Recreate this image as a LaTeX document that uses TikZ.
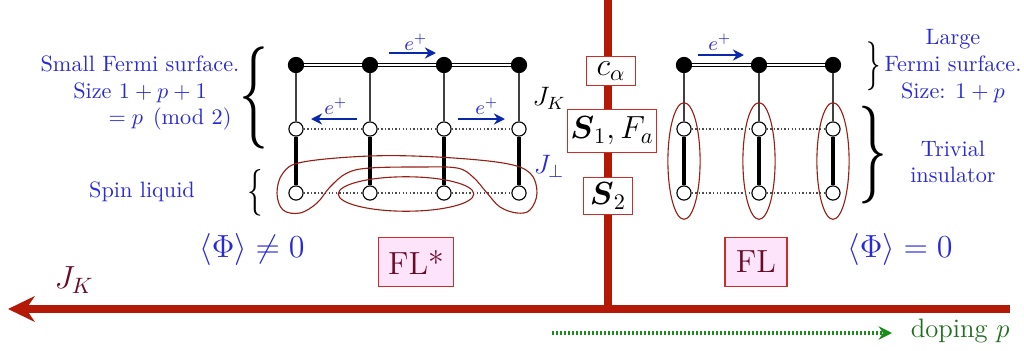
\documentclass[tikz,border=0pt]{standalone}
\usepackage{amsmath}
\usepackage{graphicx}
\usetikzlibrary{arrows.meta,shapes.geometric}
\definecolor{mainred}{RGB}{180,24,6}
\definecolor{boxred}{RGB}{205,45,40}
\definecolor{maroon}{RGB}{105,10,40}
\definecolor{pinkfill}{RGB}{253,228,250}
\definecolor{txtblue}{RGB}{40,40,220}
\definecolor{arrblue}{RGB}{10,40,170}
\definecolor{loopred}{RGB}{150,30,20}
\definecolor{dgreen}{RGB}{25,140,25}
\definecolor{tgreen}{RGB}{30,110,30}
\tikzset{
  fdot/.style={circle,fill=black,draw=black,inner sep=0pt,minimum size=6.9pt},
  odot/.style={circle,fill=white,draw=black,line width=0.5pt,inner sep=0pt,minimum size=6.4pt},
  dbl/.style={draw=black,line width=0.45pt,double=white,double distance=0.75pt},
  kond/.style={draw=black!75,line width=0.5pt},
  perp/.style={draw=black,line width=1.4pt},
  dots/.style={draw=black!70,line width=0.5pt,dash pattern=on 0.6pt off 1pt},
  hop/.style={draw=arrblue,line width=1.3pt,-{Stealth[length=5pt,width=5pt]}},
  eplus/.style={text=txtblue,font=\small},
  ringline/.style={draw=loopred,line width=0.5pt},
  fieldbox/.style={draw=boxred,fill=white,line width=0.6pt,inner sep=1pt,font=\Large},
  phasebox/.style={draw=boxred,fill=pinkfill,line width=0.6pt,text=maroon,font=\Large,minimum height=22pt,inner sep=2pt},
  bluetxt/.style={text=txtblue,align=center},
  mainline/.style={draw=mainred,line width=3.2pt}
}
\begin{document}
\begin{tikzpicture}[x=0.45pt,y=-0.45pt]
\useasboundingbox (0,0) rectangle (1024,351);
% main axes
\coordinate (vtop) at (608,0);
\coordinate (vbot) at (608,309);
\coordinate (hR) at (1010,309);
\coordinate (hL) at (8,309);
\draw[mainline] (vtop) -- (vbot);
\draw[mainline,-{Stealth[length=12pt,width=11.5pt]}] (hR) -- (hL);
% fields boxes
\node[fieldbox,minimum width=22pt,minimum height=13pt] (ca) at (611,71) {$c_\alpha$};
\node[fieldbox,minimum width=40pt,minimum height=19.4pt] (SF) at (612,131) {$\boldsymbol{S}_1, F_a$};
\node[fieldbox,minimum width=22pt,minimum height=16.7pt] (S2) at (608,196) {$\boldsymbol{S}_2$};
% left lattice
\foreach \i/\x in {1/296,2/370,3/444,4/519}{
  \node[fdot] (a\i) at (\x,65) {};
  \node[odot] (b\i) at (\x,129) {};
  \node[odot] (c\i) at (\x,193) {};
  \draw[kond] (a\i) -- (b\i);
  \draw[perp] (b\i) -- (c\i);
}
\draw[dbl] (a1) -- (a2);
\draw[dbl] (a2) -- (a3);
\draw[dbl] (a3) -- (a4);
\draw[dots] (b1) -- (b2); \draw[dots] (b2) -- (b3); \draw[dots] (b3) -- (b4);
\draw[dots] (c1) -- (c2); \draw[dots] (c2) -- (c3); \draw[dots] (c3) -- (c4);
% hops left
\coordinate (h1s) at (389,53); \coordinate (h1e) at (436,53);
\coordinate (h2s) at (357,119); \coordinate (h2e) at (311,119);
\coordinate (h3s) at (458,119); \coordinate (h3e) at (505,119);
\draw[hop] (h1s) -- (h1e);
\draw[hop] (h2s) -- (h2e);
\draw[hop] (h3s) -- (h3e);
\node[eplus] (e1) at (416,42) {$e^+$};
\node[eplus] (e2) at (336,106) {$e^+$};
\node[eplus] (e3) at (487,106) {$e^+$};
\node[font=\large] (JK) at (549,98) {$J_K$};
\node[font=\large,text=txtblue] (Jp) at (549,166) {$J_\perp$};
% loops
\draw[ringline] plot[smooth cycle,tension=0.6] coordinates {
 (277,193) (283,173) (303,162) (370,156) (437,157) (503,163) (530,173) (537,193)
 (530,210) (517,213) (500,207) (487,193) (473,177) (457,168) (420,167) (370,168)
 (347,173) (330,187) (317,203) (300,213) (283,210)};
\node[ringline,ellipse,minimum width=61pt,minimum height=15.5pt,inner sep=0pt] (in) at (406,194) {};
% right lattice
\foreach \i/\x in {1/684,2/759,3/833}{
  \node[fdot] (A\i) at (\x,65) {};
  \node[odot] (B\i) at (\x,129) {};
  \node[odot] (C\i) at (\x,193) {};
  \draw[kond] (A\i) -- (B\i);
  \draw[perp] (B\i) -- (C\i);
  \node[ringline,ellipse,minimum width=14.5pt,minimum height=52.5pt,inner sep=0pt] (E\i) at (\x,161) {};
}
\draw[dbl] (A1) -- (A2);
\draw[dbl] (A2) -- (A3);
\draw[dots] (B1) -- (B2); \draw[dots] (B2) -- (B3);
\draw[dots] (C1) -- (C2); \draw[dots] (C2) -- (C3);
\coordinate (h4s) at (698,55); \coordinate (h4e) at (744,55);
\draw[hop] (h4s) -- (h4e);
\node[eplus] (e4) at (720,42) {$e^+$};
% braces
\node (brL1) at (254,98) {\scalebox{2.6}[4.6]{$\{$}};
\node (brL2) at (255,193) {\scalebox{1.4}[2.1]{$\{$}};
\node (brR1) at (874,66) {\scalebox{1.3}[2.2]{$\}$}};
\node (brR2) at (873,155) {\scalebox{2.6}[4.4]{$\}$}};
% texts
\node[bluetxt] (small) at (140,93) {Small Fermi surface.\\Size $1+p+1$\\\hspace*{27pt}$=p\pmod 2$};
\node[bluetxt] (spin) at (142,192) {Spin liquid};
\node[bluetxt] (large) at (953,66) {Large\\Fermi surface.\\Size: $1+p$};
\node[bluetxt] (triv) at (953,162) {Trivial\\insulator};
\node[text=txtblue,font=\Large] (phin) at (252,249) {$\langle\Phi\rangle\neq0$};
\node[text=txtblue,font=\Large] (phie) at (900,249) {$\langle\Phi\rangle=0$};
\node[phasebox,minimum width=34pt] (FLs) at (416,262) {FL*};
\node[phasebox,minimum width=28pt] (FL) at (756,262) {FL};
\node[text=maroon,font=\Large] (JKb) at (74,280) {$J_K$};
% doping arrow
\coordinate (ds) at (552,333);
\coordinate (de) at (892,333);
\draw[draw=dgreen,line width=1.4pt,dash pattern=on 0.9pt off 0.9pt,-{Stealth[length=6pt,width=6pt]}] (ds) -- (de);
\node[text=tgreen,font=\large,anchor=west] (dop) at (903,331) {doping $p$};
\end{tikzpicture}
\end{document}
